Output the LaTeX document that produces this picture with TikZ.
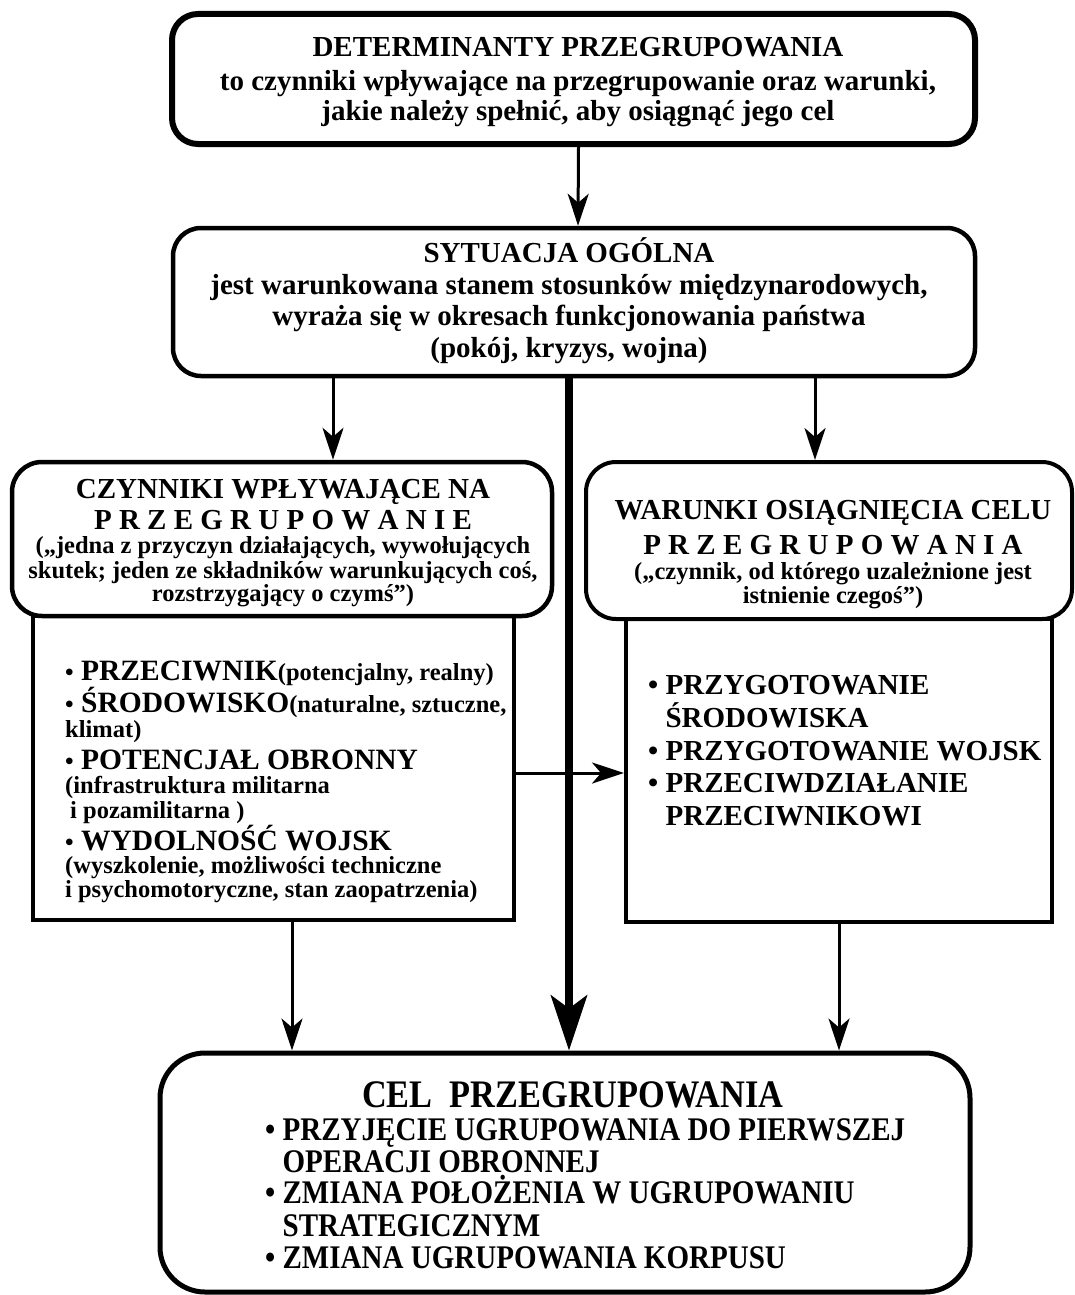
\documentclass[tikz,border=0pt]{standalone}
\usepackage{fontspec}
\setmainfont{Liberation Serif}
\newfontfamily\condfont{Liberation Serif}[FakeStretch=0.88]
\usetikzlibrary{arrows.meta,calc,positioning}
\lineskiplimit=-100pt
\newcommand\sm[1]{{\fontsize{24.5pt}{24pt}\selectfont #1}}

\begin{document}
\begin{tikzpicture}[x=1pt, y=-1pt,
  rbox/.style={draw, rounded corners=28pt, line width=4.5pt},
  lbox/.style={draw, line width=4pt},
  txt/.style={anchor=base, align=center, inner sep=0pt},
  ltxt/.style={anchor=base west, align=left, inner sep=0pt},
  arr/.style={line width=3pt, -{Stealth[length=32pt,width=21pt,inset=9pt]}},
  bigarr/.style={line width=8pt, -{Stealth[length=55pt,width=36pt,inset=13pt]}}]

\useasboundingbox (0,0) rectangle (1074,1295);

%boxes
\node [rbox, line width=6pt, rounded corners=26pt, minimum width=803pt, minimum height=130pt] (det) at (573.5,79) {};
\node [rbox, minimum width=802pt, minimum height=148pt] (sit) at (574,302) {};

\node [lbox, minimum width=481pt, minimum height=304pt] (czynL) at (273.5,768) {};
\node [rbox, rounded corners=30pt, minimum width=540pt, minimum height=154pt] (czyn) at (282,539) {};

\node [lbox, minimum width=426pt, minimum height=303pt] (warL) at (839,770.5) {};
\node [rbox, rounded corners=30pt, line width=4pt, minimum width=486pt, minimum height=157pt] (war) at (829,540.5) {};

\node [rbox, line width=5pt, rounded corners=45pt, minimum width=810pt, minimum height=239pt] (cel) at (565,1172.5) {};

%texts (anchored on the baseline of the last line)
\node [txt, font=\bfseries\fontsize{29pt}{32pt}\selectfont] (detT) at ([shift={(4.5,42)}]det.center)
  {DETERMINANTY PRZEGRUPOWANIA\\[2pt]
   to czynniki wpływające na przegrupowanie oraz warunki,\\[-2pt]
   jakie należy spełnić, aby osiągnąć jego cel};

\node [txt, font=\bfseries\fontsize{29pt}{31.5pt}\selectfont] (sitT) at ([shift={(-5,55)}]sit.center)
  {SYTUACJA OGÓLNA\\
   jest warunkowana stanem stosunków międzynarodowych,\\
   wyraża się w okresach funkcjonowania państwa\\
   (pokój, kryzys, wojna)};

\node [txt, font=\bfseries\fontsize{29pt}{24pt}\selectfont] (czynT) at ([shift={(1,62)}]czyn.center)
  {CZYNNIKI WPŁYWAJĄCE NA\\[7pt]
   P R Z E G R U P O W A N I E\\
   \sm{(„jedna z przyczyn działających, wywołujących}\\[1pt]
   \sm{skutek; jeden ze składników warunkujących coś,}\\[-1pt]
   \sm{rozstrzygający o czymś”)}};

\node [txt, font=\bfseries\fontsize{29pt}{32pt}\selectfont] (warT) at ([shift={(4,62.5)}]war.center)
  {WARUNKI OSIĄGNIĘCIA CELU\\[3pt]
   P R Z E G R U P O W A N I A\\[-7pt]
   \sm{(„czynnik, od którego uzależnione jest}\\[-8pt]
   \sm{istnienie czegoś”)}};

\node [ltxt, font=\bfseries\fontsize{29.5pt}{24pt}\selectfont] (czynLT) at ([shift={(-208.5,129)}]czynL.center)
  {\sm{•} PRZECIWNIK\sm{(potencjalny, realny)}\\[8pt]
   \sm{•} ŚRODOWISKO\sm{(naturalne, sztuczne,}\\[1pt]
   \sm{klimat)}\\[8pt]
   \sm{•} POTENCJAŁ OBRONNY\\[0pt]
   \sm{(infrastruktura militarna}\\[1pt]
   \sm{\hspace*{5pt}i pozamilitarna )}\\[8pt]
   \sm{•} WYDOLNOŚĆ WOJSK\\[-1pt]
   \sm{(wyszkolenie, możliwości techniczne}\\
   \sm{i psychomotoryczne, stan zaopatrzenia)}};

\node [ltxt, font=\bfseries\fontsize{29pt}{33pt}\selectfont] (warLT) at ([shift={(-191,54.5)}]warL.center)
  {• PRZYGOTOWANIE\\
   \phantom{• }ŚRODOWISKA\\
   • PRZYGOTOWANIE WOJSK\\[-1pt]
   • PRZECIWDZIAŁANIE\\
   \phantom{• }PRZECIWNIKOWI};

\node [ltxt, font=\condfont\bfseries\fontsize{33pt}{32pt}\selectfont] (celT) at ([shift={(-300,95.5)}]cel.center)
  {\hspace*{97pt}{\fontsize{39pt}{32pt}\selectfont CEL\ \ PRZEGRUPOWANIA}\\[1pt]
   • PRZYJĘCIE UGRUPOWANIA DO PIERWSZEJ\\
   \phantom{• }OPERACJI OBRONNEJ\\[-1pt]
   • ZMIANA POŁOŻENIA W UGRUPOWANIU\\[1pt]
   \phantom{• }STRATEGICZNYM\\
   • ZMIANA UGRUPOWANIA KORPUSU};

%arrows
\draw [arr] ([xshift=5pt]det.south) -- ([xshift=4pt]sit.north);
\draw [arr] ([xshift=51pt]czyn.north |- sit.south) -- ([xshift=51pt]czyn.north);
\draw [arr] ([xshift=-14pt]war.north |- sit.south) -- ([xshift=-14pt]war.north);
\draw [bigarr] ([xshift=-5pt]sit.south) -- ([xshift=-5pt]sit.south |- cel.north);
\draw [arr] ([shift={(0,5)}]czynL.east) -- ([shift={(0,5)}]czynL.east -| warL.west);
\draw [arr] ([xshift=18.5pt]czynL.south) -- ([xshift=18.5pt]czynL.south |- cel.north);
\draw [arr] (warL.south) -- (warL.south |- cel.north);

\end{tikzpicture}
\end{document}
